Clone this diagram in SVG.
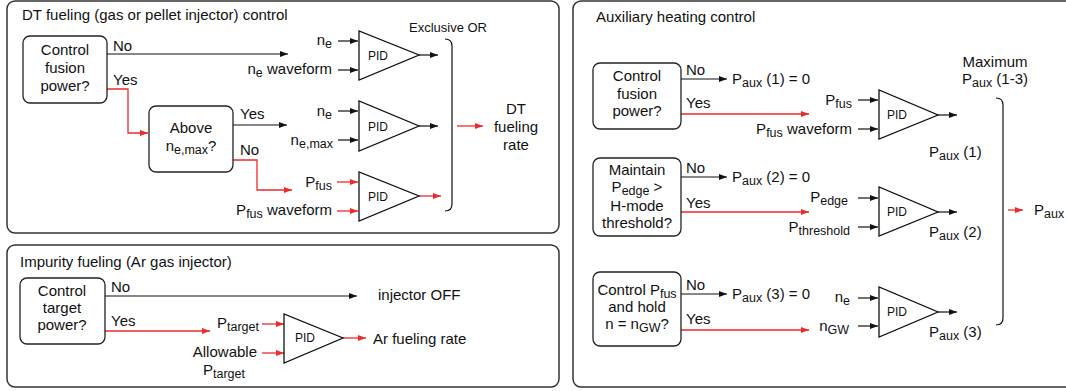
<svg xmlns="http://www.w3.org/2000/svg" width="1066" height="391" viewBox="0 0 1066 391">
<style>
.panel{fill:#fff;stroke:#333;stroke-width:1.5}
.box{fill:#fff;stroke:#222;stroke-width:1.3}
.pid{fill:#fff;stroke:#111;stroke-width:1.3}
text{font-family:"Liberation Sans",Arial,sans-serif;font-size:15px;fill:#111}
.sm{font-size:13px}
.pt{font-size:12px}
.s{font-size:12.5px}
.c{text-anchor:middle}
.e{text-anchor:end}
.k{fill:none;stroke:#111;stroke-width:1.2}
.r{fill:none;stroke:#ee2a2a;stroke-width:1.3}
.ka{marker-end:url(#ak)}
.ra{marker-end:url(#ar)}
</style>
<defs>
<marker id="ak" markerWidth="8" markerHeight="6" refX="8" refY="3" orient="auto" markerUnits="userSpaceOnUse"><path d="M0,0 L8,3 L0,6 z" fill="#111"/></marker>
<marker id="ar" markerWidth="8" markerHeight="6" refX="8" refY="3" orient="auto" markerUnits="userSpaceOnUse"><path d="M0,0 L8,3 L0,6 z" fill="#ee2a2a"/></marker>
</defs>
<rect width="1066" height="391" fill="#fff"/>

<g id="panel-dt">
<rect class="panel" x="7" y="1" width="552" height="232" rx="8"/>
<text x="22" y="20">DT fueling (gas or pellet injector) control</text>
</g>
<g id="panel-imp">
<rect class="panel" x="7" y="245" width="552" height="142" rx="8"/>
<text x="20" y="267">Impurity fueling (Ar gas injector)</text>
</g>
<g id="panel-aux">
<rect class="panel" x="573" y="1" width="500" height="386" rx="8"/>
<text x="596" y="22">Auxiliary heating control</text>
</g>

<g id="connectors">
<path class="k ka" d="M107,54 H288"/>
<path class="r ra" d="M107,89 H128 V133 H148"/>
<path class="k ka" d="M233,125 H287"/>
<path class="r ra" d="M233,160 H257 V190 H292"/>
<path class="k ka" d="M338,41 H358"/>
<path class="k ka" d="M338,70 H358"/>
<path class="k ka" d="M338,111 H358"/>
<path class="k ka" d="M338,140 H358"/>
<path class="r ra" d="M337,182 H358"/>
<path class="r ra" d="M337,211 H358"/>
<path class="k ka" d="M419,55 H438"/>
<path class="k ka" d="M419,126 H438"/>
<path class="r ra" d="M419,196 H441"/>
<path class="k" d="M445,39 Q452,39 452,46 V204 Q452,211 445,211"/>
<path class="r ra" d="M457,126 H483"/>

<path class="k ka" d="M105,296 H357"/>
<path class="r ra" d="M105,331 H210"/>
<path class="r ra" d="M262,324 H284"/>
<path class="r ra" d="M262,353 H284"/>
<path class="r ra" d="M343,338 H366"/>

<path class="k ka" d="M681,79 H727"/>
<path class="r ra" d="M681,114 H809"/>
<path class="k ka" d="M681,177 H727"/>
<path class="r ra" d="M681,212 H809"/>
<path class="k ka" d="M681,294 H727"/>
<path class="r ra" d="M681,330 H809"/>
<path class="k ka" d="M858,100 H878"/>
<path class="k ka" d="M858,129 H878"/>
<path class="k ka" d="M858,198 H878"/>
<path class="k ka" d="M858,227 H878"/>
<path class="k ka" d="M858,298 H878"/>
<path class="k ka" d="M858,326 H878"/>
<path class="k ka" d="M938,115 H957"/>
<path class="k ka" d="M938,212 H957"/>
<path class="k ka" d="M938,312 H957"/>
<path class="k" d="M996,98 Q1003,98 1003,105 V318 Q1003,325 996,325"/>
<path class="r ra" d="M1008,210 H1023"/>
</g>

<g id="dt-q1">
<rect class="box" x="23" y="36" width="84" height="67" rx="7"/>
<text class="c" x="65" y="55">Control</text>
<text class="c" x="65" y="73">fusion</text>
<text class="c" x="65" y="91">power?</text>
<text x="113" y="51">No</text>
<text x="113" y="85">Yes</text>
</g>
<g id="dt-q2">
<rect class="box" x="149" y="106" width="84" height="66" rx="7"/>
<text class="c" x="191" y="133">Above</text>
<text class="c" x="191" y="151">n<tspan class="s" dy="3">e,max</tspan><tspan dy="-3">?</tspan></text>
<text x="240" y="119">Yes</text>
<text x="240" y="155">No</text>
</g>
<g id="dt-pid1">
<polygon class="pid" points="359,31 359,80 419,55"/>
<text class="pt c" x="378" y="60">PID</text>
<text class="e" x="332" y="45">n<tspan class="s" dy="3">e</tspan></text>
<text class="e" x="332" y="74">n<tspan class="s" dy="3">e</tspan><tspan dy="-3"> waveform</tspan></text>
</g>
<g id="dt-pid2">
<polygon class="pid" points="359,101 359,151 419,126"/>
<text class="pt c" x="378" y="131">PID</text>
<text class="e" x="332" y="116">n<tspan class="s" dy="3">e</tspan></text>
<text class="e" x="333" y="145">n<tspan class="s" dy="3">e,max</tspan></text>
</g>
<g id="dt-pid3">
<polygon class="pid" points="359,172 359,221 419,196"/>
<text class="pt c" x="378" y="201">PID</text>
<text class="e" x="332" y="187">P<tspan class="s" dy="3">fus</tspan></text>
<text class="e" x="332" y="215">P<tspan class="s" dy="3">fus</tspan><tspan dy="-3"> waveform</tspan></text>
</g>
<g id="dt-xor">
<text class="sm c" x="448" y="32">Exclusive OR</text>
</g>
<g id="dt-out">
<text class="c" x="516" y="114">DT</text>
<text class="c" x="516" y="132">fueling</text>
<text class="c" x="516" y="150">rate</text>
</g>

<g id="imp-q">
<rect class="box" x="20" y="278" width="85" height="66" rx="7"/>
<text class="c" x="62" y="296">Control</text>
<text class="c" x="62" y="313">target</text>
<text class="c" x="62" y="330">power?</text>
<text x="111" y="292">No</text>
<text x="111" y="326">Yes</text>
</g>
<g id="imp-off">
<text x="378" y="300">injector OFF</text>
</g>
<g id="imp-pid">
<polygon class="pid" points="284,314 284,363 343,338"/>
<text class="pt c" x="305" y="342">PID</text>
<text x="217" y="328">P<tspan class="s" dy="3">target</tspan></text>
<text class="e" x="257" y="357">Allowable</text>
<text x="203" y="375">P<tspan class="s" dy="3">target</tspan></text>
</g>
<g id="imp-out">
<text x="373" y="344">Ar fueling rate</text>
</g>

<g id="aux-q1">
<rect class="box" x="593" y="63" width="88" height="66" rx="7"/>
<text class="c" x="637" y="81">Control</text>
<text class="c" x="637" y="99">fusion</text>
<text class="c" x="637" y="116">power?</text>
<text x="686" y="75">No</text>
<text x="686" y="108">Yes</text>
<text x="732" y="84">P<tspan class="s" dy="3">aux</tspan><tspan dy="-3"> (1) = 0</tspan></text>
</g>
<g id="aux-q2">
<rect class="box" x="593" y="158" width="88" height="78" rx="7"/>
<text class="c" x="637" y="175">Maintain</text>
<text class="c" x="637" y="192">P<tspan class="s" dy="2.5">edge</tspan><tspan dy="-2.5"> &gt;</tspan></text>
<text class="c" x="637" y="211">H-mode</text>
<text class="c" x="637" y="228">threshold?</text>
<text x="686" y="173">No</text>
<text x="686" y="208">Yes</text>
<text x="732" y="182">P<tspan class="s" dy="3">aux</tspan><tspan dy="-3"> (2) = 0</tspan></text>
</g>
<g id="aux-q3">
<rect class="box" x="593" y="272" width="88" height="74" rx="7"/>
<text class="c" x="637" y="295">Control P<tspan class="s" dy="3">fus</tspan></text>
<text class="c" x="637" y="312">and hold</text>
<text class="c" x="637" y="329">n = n<tspan class="s" dy="3">GW</tspan><tspan dy="-3">?</tspan></text>
<text x="686" y="290">No</text>
<text x="686" y="324">Yes</text>
<text x="732" y="299">P<tspan class="s" dy="3">aux</tspan><tspan dy="-3"> (3) = 0</tspan></text>
</g>
<g id="aux-pid1">
<polygon class="pid" points="879,90 879,139 938,115"/>
<text class="pt c" x="897" y="119">PID</text>
<text class="e" x="852" y="105">P<tspan class="s" dy="3">fus</tspan></text>
<text class="e" x="852" y="134">P<tspan class="s" dy="3">fus</tspan><tspan dy="-3"> waveform</tspan></text>
<text x="929" y="157">P<tspan class="s" dy="3">aux</tspan><tspan dy="-3"> (1)</tspan></text>
</g>
<g id="aux-pid2">
<polygon class="pid" points="879,187 879,236 938,212"/>
<text class="pt c" x="897" y="216">PID</text>
<text class="e" x="848" y="202">P<tspan class="s" dy="3">edge</tspan></text>
<text class="e" x="850" y="232">P<tspan class="s" dy="3">threshold</tspan></text>
<text x="929" y="237">P<tspan class="s" dy="3">aux</tspan><tspan dy="-3"> (2)</tspan></text>
</g>
<g id="aux-pid3">
<polygon class="pid" points="879,287 879,337 938,312"/>
<text class="pt c" x="897" y="316">PID</text>
<text class="e" x="850" y="302">n<tspan class="s" dy="3">e</tspan></text>
<text class="e" x="849" y="331">n<tspan class="s" dy="3">GW</tspan></text>
<text x="929" y="337">P<tspan class="s" dy="3">aux</tspan><tspan dy="-3"> (3)</tspan></text>
</g>
<g id="aux-max">
<text class="c" x="995" y="67">Maximum</text>
<text class="c" x="995" y="84">P<tspan class="s" dy="3">aux</tspan><tspan dy="-3"> (1-3)</tspan></text>
</g>
<g id="aux-out">
<text x="1034" y="215">P<tspan class="s" dy="3">aux</tspan></text>
</g>
</svg>
